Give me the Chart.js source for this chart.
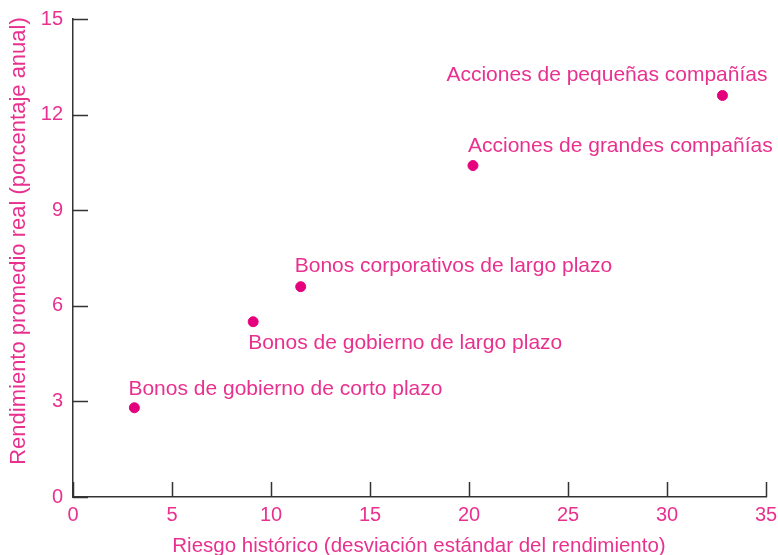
<!DOCTYPE html>
<html>
<head>
<meta charset="utf-8">
<script src="https://cdn.jsdelivr.net/npm/chart.js@4.4.1/dist/chart.umd.min.js"></script>
<style>
  html, body { margin: 0; padding: 0; background: #fff; }
  #wrap { width: 778px; height: 555px; }
</style>
</head>
<body>
<div id="wrap"><canvas id="riskChart"></canvas></div>
<script>
// data
const assetNames = [
    'Bonos de gobierno de corto plazo',
    'Bonos de gobierno de largo plazo',
    'Bonos corporativos de largo plazo',
    'Acciones de grandes compañías',
    'Acciones de pequeñas compañías'
];
const riskValues = [3.1, 9.1, 11.5, 20.2, 32.8];
const returnValues = [2.8, 5.5, 6.6, 10.4, 12.6];
const xTicks = [0, 5, 10, 15, 20, 25, 30, 35];
const yTicks = [0, 3, 6, 9, 12, 15];

const xTitle = 'Riesgo histórico (desviación estándar del rendimiento)';
const yTitle = 'Rendimiento promedio real (porcentaje anual)';

const pink = '#e8318f';
const dotColor = '#e5007d';
const axisColor = '#333333';
const fontFamily = '"Liberation Sans", Arial, Helvetica, sans-serif';

// label placement next to each point (offset from the dot, px)
const labelOffsets = [
    { dx: -6, dy: -19 },
    { dx: -5, dy: 21 },
    { dx: -6, dy: -20 },
    { dx: -5, dy: -19 },
    { dx: -276, dy: -20 }
];

// inward tick marks + axis titles + point labels
const decorations = {
    id: 'decorations',
    afterDraw(chart) {
        const ctx = chart.ctx;
        const xs = chart.scales.x;
        const ys = chart.scales.y;
        const area = chart.chartArea;
        ctx.save();
        ctx.strokeStyle = axisColor;
        ctx.lineWidth = 1.5;
        ctx.beginPath();
        xTicks.forEach(v => {
            const px = Math.round(xs.getPixelForValue(v)) + 0.5;
            ctx.moveTo(px, area.bottom);
            ctx.lineTo(px, area.bottom - 15);
        });
        yTicks.forEach(v => {
            const py = Math.round(ys.getPixelForValue(v)) + 0.5;
            ctx.moveTo(area.left, py);
            ctx.lineTo(area.left + 15, py);
        });
        ctx.stroke();

        ctx.fillStyle = pink;
        ctx.textAlign = 'center';
        ctx.textBaseline = 'middle';
        ctx.font = '20.5px ' + fontFamily;
        ctx.fillText(xTitle, 419, 546);
        ctx.save();
        ctx.font = '22px ' + fontFamily;
        ctx.translate(19, 241);
        ctx.rotate(-Math.PI / 2);
        ctx.fillText(yTitle, 0, 0);
        ctx.restore();

        ctx.font = '21px ' + fontFamily;
        ctx.textAlign = 'left';
        const meta = chart.getDatasetMeta(0);
        meta.data.forEach((pt, i) => {
            const off = labelOffsets[i];
            ctx.fillText(assetNames[i], pt.x + off.dx, pt.y + off.dy);
        });
        ctx.restore();
    }
};

const ctx = document.getElementById('riskChart').getContext('2d');
const riskChart = new Chart(ctx, {
    type: 'scatter',
    data: {
        datasets: [{
            data: riskValues.map((x, i) => ({ x: x, y: returnValues[i] })),
            backgroundColor: dotColor,
            borderColor: dotColor,
            pointRadius: 5,
            pointHoverRadius: 5
        }]
    },
    options: {
        responsive: true,
        maintainAspectRatio: false,
        animation: false,
        layout: {
            padding: { top: 19, right: 12, left: 0, bottom: 0 }
        },
        plugins: {
            legend: { display: false },
            tooltip: { enabled: false }
        },
        scales: {
            x: {
                type: 'linear',
                min: 0,
                max: 35,
                afterFit: scale => {
                    scale.height = 58;
                    scale.paddingLeft = 0;
                    scale.paddingRight = 0;
                },
                afterBuildTicks: scale => { scale.ticks = xTicks.map(v => ({ value: v })); },
                ticks: {
                    color: pink,
                    font: { family: fontFamily, size: 20 },
                    padding: 6
                },
                grid: { display: false, drawTicks: false },
                border: { display: true, color: axisColor, width: 1.5 }
            },
            y: {
                type: 'linear',
                min: 0,
                max: 15,
                afterFit: scale => {
                    scale.width = 73;
                    scale.paddingTop = 0;
                    scale.paddingBottom = 0;
                },
                afterBuildTicks: scale => { scale.ticks = yTicks.map(v => ({ value: v })); },
                ticks: {
                    color: pink,
                    font: { family: fontFamily, size: 20 },
                    padding: 10
                },
                grid: { display: false, drawTicks: false },
                border: { display: true, color: axisColor, width: 1.5 }
            }
        }
    },
    plugins: [decorations]
});
</script>
</body>
</html>
